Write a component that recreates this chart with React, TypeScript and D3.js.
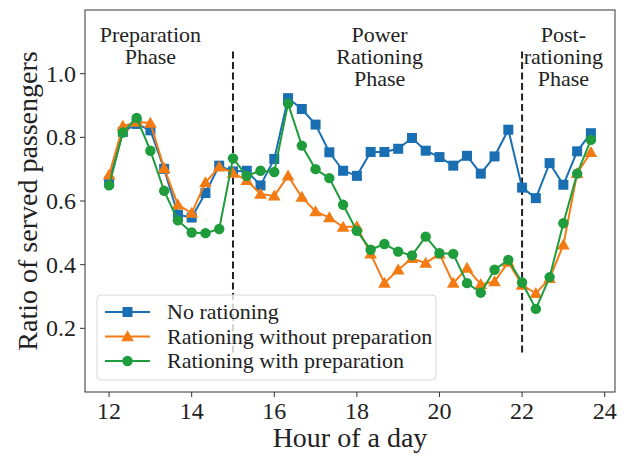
import React from "react";
import * as d3 from "d3";

const hours: number[] = Array.from({ length: 36 }, (_, i) => 12 + i / 3);

const noRationing: number[] = [
  0.661, 0.817, 0.842, 0.822, 0.701, 0.557, 0.548, 0.625, 0.711, 0.693,
  0.695, 0.649, 0.732, 0.923, 0.889, 0.840, 0.753, 0.695, 0.679, 0.754,
  0.754, 0.764, 0.798, 0.758, 0.738, 0.711, 0.742, 0.686, 0.740, 0.824,
  0.642, 0.609, 0.719, 0.651, 0.756, 0.813,
];
const withoutPrep: number[] = [
  0.682, 0.835, 0.848, 0.845, 0.703, 0.588, 0.562, 0.658, 0.707, 0.688,
  0.665, 0.622, 0.616, 0.679, 0.612, 0.567, 0.548, 0.518, 0.520, 0.434,
  0.342, 0.384, 0.420, 0.405, 0.434, 0.342, 0.389, 0.338, 0.347, 0.408,
  0.336, 0.310, 0.357, 0.462, 0.687, 0.753,
];
const withPrep: number[] = [
  0.649, 0.815, 0.861, 0.758, 0.632, 0.539, 0.501, 0.499, 0.512, 0.734,
  0.679, 0.695, 0.691, 0.906, 0.774, 0.700, 0.672, 0.588, 0.506, 0.447,
  0.465, 0.441, 0.429, 0.488, 0.436, 0.434, 0.342, 0.312, 0.384, 0.415,
  0.344, 0.261, 0.361, 0.530, 0.686, 0.792,
];

const seriesNames = ["No rationing", "Rationing without preparation", "Rationing with preparation"];
const seriesValues = [noRationing, withoutPrep, withPrep];
const seriesColors = ["#1a6fb3", "#f47b14", "#1f9c3c"];
const seriesMarkers = ["square", "triangle", "circle"];

const xTicks = [12, 14, 16, 18, 20, 22, 24];
const yTicks = [0.2, 0.4, 0.6, 0.8, 1.0];
const phaseLines = [15, 22];
const phaseLabels = [
  { x: 13, lines: ["Preparation", "Phase"] },
  { x: 18.55, lines: ["Power", "Rationing", "Phase"] },
  { x: 23.0, lines: ["Post-", "rationing", "Phase"] },
];

const W = 625, H = 456;
const M = { left: 85, right: 10, top: 10, bottom: 64 };
const FONT = "Liberation Serif, DejaVu Serif, serif";
const ts = { fontFamily: FONT };

function Marker({ type, x, y, color }: { type: string; x: number; y: number; color: string }) {
  if (type === "square") {
    const s = 10;
    return <rect x={x - s / 2} y={y - s / 2} width={s} height={s} fill={color} />;
  }
  if (type === "triangle") {
    const sym = d3.symbol().type(d3.symbolTriangle).size(70)();
    return <path d={sym || ""} transform={`translate(${x},${y + 1})`} fill={color} />;
  }
  return <circle cx={x} cy={y} r={5.2} fill={color} />;
}

export default function App() {
  const x = d3.scaleLinear().domain([11.4167, 24.25]).range([M.left, W - M.right]);
  const y = d3.scaleLinear().domain([0, 1.2]).range([H - M.bottom, M.top]);
  const line = d3.line<[number, number]>().x((d) => x(d[0])).y((d) => y(d[1]));
  const bottom = H - M.bottom;

  return (
    <svg width={W} height={H} style={{ position: "absolute", left: 0, top: 0, background: "#fff" }}>
      {phaseLines.map((p) => (
        <line key={p} x1={x(p)} x2={x(p)} y1={y(1.07)} y2={y(0.12)} stroke="#222" strokeWidth={2} strokeDasharray="7,3.5" />
      ))}
      {phaseLabels.map((pl) => (
        <text key={pl.x} x={x(pl.x)} y={42} textAnchor="middle" fontSize={22} fill="#222" style={ts}>
          {pl.lines.map((l, i) => (
            <tspan key={i} x={x(pl.x)} dy={i === 0 ? 0 : 22}>{l}</tspan>
          ))}
        </text>
      ))}
      {seriesValues.map((vals, si) => (
        <g key={si}>
          <path d={line(hours.map((h, i) => [h, vals[i]] as [number, number])) || ""} fill="none" stroke={seriesColors[si]} strokeWidth={2} />
          {vals.map((v, i) => (
            <Marker key={i} type={seriesMarkers[si]} x={x(hours[i])} y={y(v)} color={seriesColors[si]} />
          ))}
        </g>
      ))}
      <g>
        <rect x={97} y={295} width={339} height={85} rx={4} fill="#fff" fillOpacity={0.8} stroke="#d8d8d8" strokeWidth={1} />
        {seriesNames.map((n, i) => {
          const ly = 312 + i * 24.5;
          return (
            <g key={n}>
              <line x1={105} x2={150} y1={ly} y2={ly} stroke={seriesColors[i]} strokeWidth={2} />
              <Marker type={seriesMarkers[i]} x={127.5} y={ly} color={seriesColors[i]} />
              <text x={167} y={ly + 7} fontSize={22} fill="#222" style={ts}>{n}</text>
            </g>
          );
        })}
      </g>
      <rect x={M.left} y={M.top} width={W - M.left - M.right} height={bottom - M.top} fill="none" stroke="#333" strokeWidth={1} />
      {xTicks.map((t) => (
        <g key={t}>
          <line x1={x(t)} x2={x(t)} y1={bottom} y2={bottom + 5} stroke="#333" strokeWidth={1} />
          <text x={x(t)} y={bottom + 27} textAnchor="middle" fontSize={24} fill="#222" style={ts}>{t}</text>
        </g>
      ))}
      {yTicks.map((t) => (
        <g key={t}>
          <line x1={M.left - 5} x2={M.left} y1={y(t)} y2={y(t)} stroke="#333" strokeWidth={1} />
          <text x={M.left - 9} y={y(t) + 8} textAnchor="end" fontSize={24} fill="#222" style={ts}>{t.toFixed(1)}</text>
        </g>
      ))}
      <text x={(M.left + W - M.right) / 2} y={447} textAnchor="middle" fontSize={28} fill="#222" style={ts}>Hour of a day</text>
      <text transform={`translate(37,${(M.top + bottom) / 2}) rotate(-90)`} textAnchor="middle" fontSize={28} fill="#222" style={ts}>Ratio of served passengers</text>
    </svg>
  );
}
